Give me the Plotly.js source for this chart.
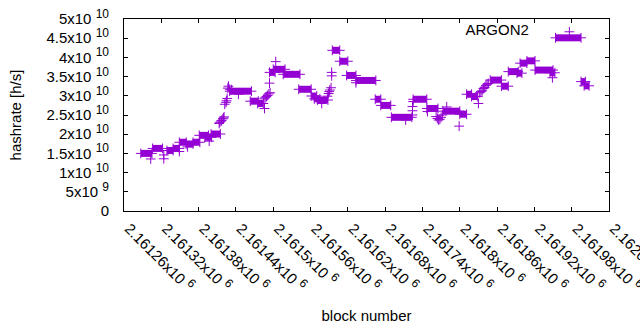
<!DOCTYPE html>
<html><head><meta charset="utf-8">
<script src="https://cdn.plot.ly/plotly-3.0.1.min.js"></script>
<style>html,body{margin:0;padding:0;background:#fff}#chart{width:640px;height:330px}</style>
</head><body><div id="chart"></div>
<script>
// Runs of consecutive blocks sharing the same hashrate value
const runStart = [2161287,2161306,2161329,2161339,2161349,2161360,2161371,2161381,2161390,2161400,
  2161430,2161463,2161475,2161494,2161500,2161516,2161541,2161561,2161566,2161571,
  2161595,2161607,2161618,2161633,2161664,2161673,2161690,2161725,2161747,2161773,
  2161800,2161811,2161819,2161849,2161867,2161878,2161892,2161897,2161908,2161921,
  2161945,2161954,2161995,2162000];
const runEnd = [2161305,2161322,2161339,2161349,2161360,2161371,2161382,2161396,2161401,2161415,
  2161465,2161476,2161484,2161503,2161519,2161543,2161561,2161570,2161575,2161588,
  2161607,2161620,2161633,2161665,2161673,2161689,2161723,2161747,2161765,2161800,
  2161811,2161819,2161829,2161867,2161878,2161894,2161900,2161908,2161921,2161950,
  2161953,2161995,2162002,2162008];
const runValue = [1.50e10,1.63e10,1.575e10,1.63e10,1.79e10,1.745e10,1.79e10,1.97e10,1.92e10,2.005e10,
  3.12e10,2.86e10,2.80e10,3.61e10,3.69e10,3.56e10,3.17e10,2.995e10,2.92e10,2.89e10,
  4.185e10,3.90e10,3.53e10,3.40e10,2.91e10,2.75e10,2.44e10,2.91e10,2.67e10,2.60e10,
  2.52e10,3.04e10,2.98e10,3.41e10,3.25e10,3.63e10,3.59e10,3.85e10,3.91e10,3.67e10,
  3.60e10,4.51e10,3.37e10,3.26e10];
// Individual blocks
const pointBlock = [2161303,2161324,2161324,2161349,2161362,2161397,
  2161413,2161414,2161416,2161417,2161419,2161420,2161421,
  2161422,2161424,2161425,2161426,
  2161427,2161428,2161430,2161433,2161444,
  2161486,2161485,2161487,2161489,2161491,2161493,2161495,
  2161494,2161504,2161578,
  2161587,2161589,2161590,2161591,2161593,
  2161594,2161594,2161633,2161713,
  2161724,2161724,2161724,2161725,
  2161748,2161762,2161764,2161766,2161768,2161770,2161772,
  2161779,2161799,2161830,
  2161832,2161834,2161836,2161838,2161840,2161842,2161844,2161846,
  2161949];
const pointValue = [1.355e10,1.46e10,1.36e10,1.55e10,1.67e10,1.82e10,
  2.28e10,2.31e10,2.34e10,2.36e10,2.40e10,2.42e10,2.45e10,
  2.78e10,2.83e10,2.87e10,2.93e10,
  3.20e10,3.25e10,3.17e10,3.16e10,3.04e10,
  2.67e10,2.92e10,2.95e10,2.98e10,3.01e10,3.05e10,3.08e10,
  3.33e10,3.89e10,2.80e10,
  2.99e10,3.06e10,3.11e10,3.15e10,3.21e10,
  3.61e10,3.52e10,3.34e10,2.37e10,
  2.50e10,2.61e10,2.72e10,2.85e10,
  2.59e10,2.46e10,2.41e10,2.37e10,2.39e10,2.44e10,2.50e10,
  2.71e10,2.21e10,2.80e10,
  3.08e10,3.11e10,3.13e10,3.19e10,3.22e10,3.27e10,3.30e10,3.32e10,
  3.47e10];
const xTickValues = [2161260,2161320,2161380,2161440,2161500,2161560,2161620,2161680,2161740,2161800,2161860,2161920,2161980,2162040];
const xTickMantissa = ["2.16126","2.16132","2.16138","2.16144","2.1615","2.16156","2.16162","2.16168","2.16174","2.1618","2.16186","2.16192","2.16198","2.16204"];
const xTickExponent = "6";
const yTickValues = [0,5e9,1e10,1.5e10,2e10,2.5e10,3e10,3.5e10,4e10,4.5e10,5e10];
const yTickMantissa = ["0","5","1","1.5","2","2.5","3","3.5","4","4.5","5"];
const yTickExponent = ["","9","10","10","10","10","10","10","10","10","10"];
const seriesName = "ARGON2";

const color = "#9400d3";
const sup = e => " <sup><span style=\"font-size:12px\">" + e + "</span></sup>";
const xTickLabels = xTickMantissa.map(m => m + "x10" + sup(xTickExponent));
const yTickLabels = yTickMantissa.map((m, i) => yTickExponent[i] ? m + "x10" + sup(yTickExponent[i]) : m);
const rx = [], ry = [];
for (let i = 0; i < runStart.length; i++) {
  rx.push(runStart[i], runEnd[i], null);
  ry.push(runValue[i], runValue[i], null);
}
const font = "Liberation Sans, Arial, sans-serif";
const traces = [
  {x: rx, y: ry, type: "scatter", mode: "lines+markers", showlegend: false, hoverinfo: "skip",
   line: {color: color, width: 7}, connectgaps: false,
   marker: {symbol: "cross-thin", size: 7, line: {color: color, width: 1}, color: color}},
  {x: pointBlock, y: pointValue, type: "scatter", mode: "markers", name: " ", showlegend: true,
   marker: {symbol: "cross-thin", size: 7, line: {color: color, width: 1}, color: color}}
];
const axisCommon = {showline: true, linecolor: "#000", linewidth: 1, mirror: "allticks", ticks: "inside",
  ticklen: 4, tickcolor: "#000", showgrid: false, zeroline: false, tickmode: "array",
  ticklabeloverflow: "allow",
  tickfont: {family: font, size: 15, color: "#000"}};
const layout = {
  width: 640, height: 330, paper_bgcolor: "#fff", plot_bgcolor: "#fff",
  margin: {l: 124, r: 31, t: 19, b: 119},
  font: {family: font, size: 15, color: "#000"},
  xaxis: Object.assign({}, axisCommon, {range: [2161260, 2162040], tickvals: xTickValues, ticktext: xTickLabels,
    tickangle: 45, ticklabelshift: 5, ticklabelstandoff: 2,
    title: {text: "block number", font: {family: font, size: 15, color: "#000"}, standoff: 16}}),
  yaxis: Object.assign({}, axisCommon, {range: [0, 5e10], tickvals: yTickValues, ticktext: yTickLabels,
    ticklabelstandoff: 11,
    title: {text: "hashrate [h/s]", font: {family: font, size: 15, color: "#000"}, standoff: 21}}),
  showlegend: true,
  legend: {x: 0.70, y: 1.018, xanchor: "left", yanchor: "top", bgcolor: "rgba(0,0,0,0)",
    title: {text: seriesName + "&nbsp;&nbsp;&nbsp;", side: "left", font: {family: font, size: 15, color: "#000"}},
    font: {family: font, size: 15}}
};
Plotly.newPlot("chart", traces, layout, {staticPlot: true, displayModeBar: false});
</script></body></html>
